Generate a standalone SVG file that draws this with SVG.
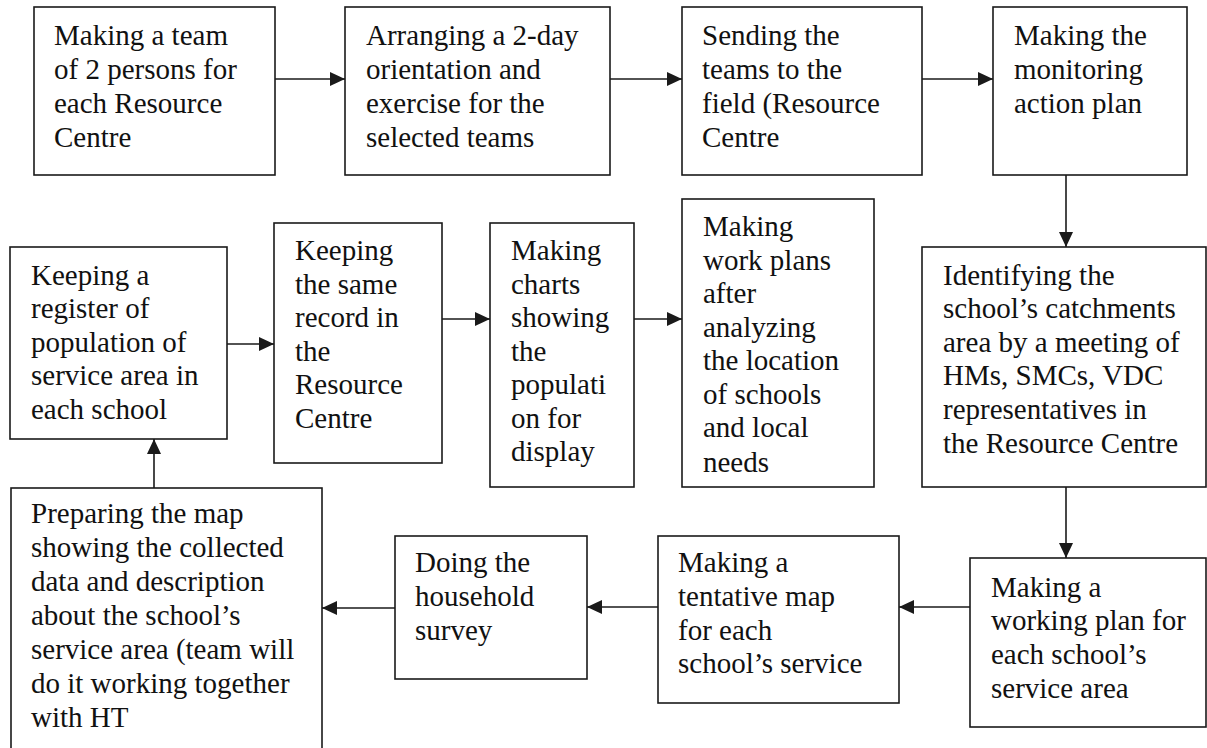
<svg xmlns="http://www.w3.org/2000/svg" width="1207" height="748" viewBox="0 0 1207 748">
  <style>
    .box { fill: #ffffff; stroke: #1a1a1a; stroke-width: 1.6; }
    .lbl { font-family: "Liberation Serif", "Times New Roman", serif; font-size: 29px; fill: #111111; }
    .link { fill: none; stroke: #1a1a1a; stroke-width: 1.6; marker-end: url(#head); }
  </style>
  <defs>
    <marker id="head" viewBox="0 0 15 14" markerWidth="15" markerHeight="14" refX="15" refY="7" markerUnits="userSpaceOnUse" orient="auto">
      <path d="M0,0 L15,7 L0,14 Z" fill="#1a1a1a"/>
    </marker>
  </defs>
  <rect width="1207" height="748" fill="#ffffff"/>

  <!-- top row -->
  <g id="team">
    <rect class="box" x="34" y="7" width="241" height="168"/>
    <text class="lbl"><tspan x="54" y="45">Making a team</tspan><tspan x="54" y="79">of 2 persons for</tspan><tspan x="54" y="113">each Resource</tspan><tspan x="54" y="147">Centre</tspan></text>
  </g>
  <g id="orientation">
    <rect class="box" x="345" y="7" width="265" height="168"/>
    <text class="lbl"><tspan x="366" y="45">Arranging a 2-day</tspan><tspan x="366" y="79">orientation and</tspan><tspan x="366" y="113">exercise for the</tspan><tspan x="366" y="147">selected teams</tspan></text>
  </g>
  <g id="field">
    <rect class="box" x="682" y="7" width="240" height="168"/>
    <text class="lbl"><tspan x="702" y="45">Sending the</tspan><tspan x="702" y="79">teams to the</tspan><tspan x="702" y="113">field (Resource</tspan><tspan x="702" y="147">Centre</tspan></text>
  </g>
  <g id="monitoring">
    <rect class="box" x="993" y="7" width="194" height="168"/>
    <text class="lbl"><tspan x="1014" y="45">Making the</tspan><tspan x="1014" y="79">monitoring</tspan><tspan x="1014" y="113">action plan</tspan></text>
  </g>

  <!-- middle row -->
  <g id="register">
    <rect class="box" x="10" y="247" width="217" height="192"/>
    <text class="lbl"><tspan x="31" y="285">Keeping a</tspan><tspan x="31" y="318">register of</tspan><tspan x="31" y="352">population of</tspan><tspan x="31" y="385">service area in</tspan><tspan x="31" y="419">each school</tspan></text>
  </g>
  <g id="record">
    <rect class="box" x="274" y="223" width="168" height="240"/>
    <text class="lbl"><tspan x="295" y="260">Keeping</tspan><tspan x="295" y="294">the same</tspan><tspan x="295" y="327">record in</tspan><tspan x="295" y="361">the</tspan><tspan x="295" y="394">Resource</tspan><tspan x="295" y="428">Centre</tspan></text>
  </g>
  <g id="charts">
    <rect class="box" x="490" y="223" width="144" height="264"/>
    <text class="lbl"><tspan x="511" y="260">Making</tspan><tspan x="511" y="294">charts</tspan><tspan x="511" y="327">showing</tspan><tspan x="511" y="361">the</tspan><tspan x="511" y="394">populati</tspan><tspan x="511" y="428">on for</tspan><tspan x="511" y="461">display</tspan></text>
  </g>
  <g id="workplans">
    <rect class="box" x="682" y="199" width="192" height="288"/>
    <text class="lbl"><tspan x="703" y="236">Making</tspan><tspan x="703" y="270">work plans</tspan><tspan x="703" y="303">after</tspan><tspan x="703" y="337">analyzing</tspan><tspan x="703" y="370">the location</tspan><tspan x="703" y="404">of schools</tspan><tspan x="703" y="437">and local</tspan><tspan x="703" y="472">needs</tspan></text>
  </g>
  <g id="catchment">
    <rect class="box" x="922" y="247" width="284" height="240"/>
    <text class="lbl"><tspan x="943" y="285">Identifying the</tspan><tspan x="943" y="318">school’s catchments</tspan><tspan x="943" y="352">area by a meeting of</tspan><tspan x="943" y="385">HMs, SMCs, VDC</tspan><tspan x="943" y="419">representatives in</tspan><tspan x="943" y="453">the Resource Centre</tspan></text>
  </g>

  <!-- bottom row -->
  <g id="mapping">
    <rect class="box" x="11" y="488" width="311" height="280"/>
    <text class="lbl"><tspan x="31" y="523">Preparing the map</tspan><tspan x="31" y="557">showing the collected</tspan><tspan x="31" y="591">data and description</tspan><tspan x="31" y="625">about the school’s</tspan><tspan x="31" y="659">service area (team will</tspan><tspan x="31" y="693">do it working together</tspan><tspan x="31" y="727">with HT</tspan></text>
  </g>
  <g id="survey">
    <rect class="box" x="395" y="536" width="192" height="143"/>
    <text class="lbl"><tspan x="415" y="572">Doing the</tspan><tspan x="415" y="606">household</tspan><tspan x="415" y="640">survey</tspan></text>
  </g>
  <g id="tentative">
    <rect class="box" x="658" y="536" width="241" height="167"/>
    <text class="lbl"><tspan x="678" y="572">Making a</tspan><tspan x="678" y="606">tentative map</tspan><tspan x="678" y="640">for each</tspan><tspan x="678" y="673">school’s service</tspan></text>
  </g>
  <g id="workingplan">
    <rect class="box" x="970" y="558" width="236" height="169"/>
    <text class="lbl"><tspan x="991" y="597">Making a</tspan><tspan x="991" y="630">working plan for</tspan><tspan x="991" y="664">each school’s</tspan><tspan x="991" y="698">service area</tspan></text>
  </g>

  <!-- connectors -->
  <g id="connectors">
    <line class="link" x1="275" y1="79" x2="345" y2="79"/>
    <line class="link" x1="610" y1="79" x2="682" y2="79"/>
    <line class="link" x1="922" y1="79" x2="993" y2="79"/>
    <line class="link" x1="1066" y1="175" x2="1066" y2="247"/>
    <line class="link" x1="1066" y1="487" x2="1066" y2="558"/>
    <line class="link" x1="970" y1="607" x2="899" y2="607"/>
    <line class="link" x1="658" y1="607" x2="587" y2="607"/>
    <line class="link" x1="395" y1="608" x2="322" y2="608"/>
    <line class="link" x1="154" y1="488" x2="154" y2="439"/>
    <line class="link" x1="227" y1="344" x2="274" y2="344"/>
    <line class="link" x1="442" y1="319" x2="490" y2="319"/>
    <line class="link" x1="634" y1="319" x2="682" y2="319"/>
  </g>
</svg>
